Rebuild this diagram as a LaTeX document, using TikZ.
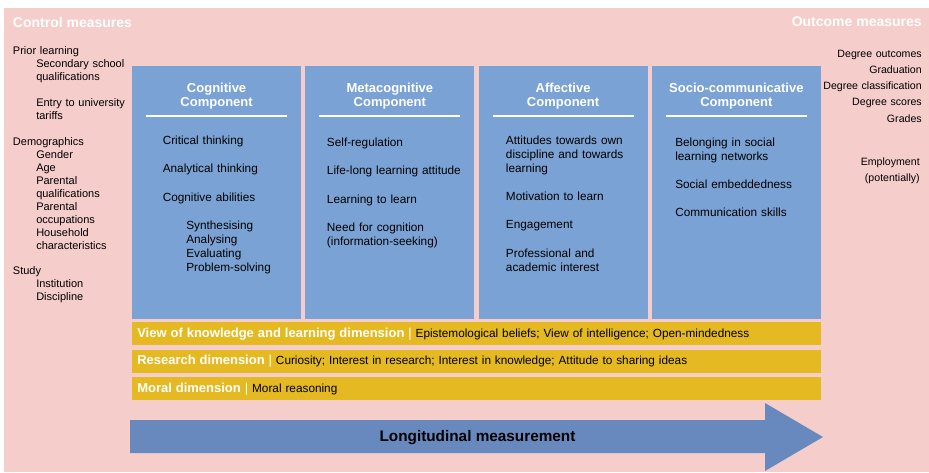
\documentclass[tikz,border=0pt]{standalone}
\usepackage{xcolor}
\usepackage{fontspec}
\usepackage{tikz}
\setmainfont{Liberation Sans}
\definecolor{bgpink}{RGB}{245,205,203}
\definecolor{compblue}{RGB}{123,162,212}
\definecolor{arrowblue}{RGB}{104,137,190}
\definecolor{baryellow}{RGB}{229,185,34}

\newcommand{\barhead}[1]{{\color{white}\bfseries\fontsize{9.75}{10}\selectfont #1 \mdseries\textbar}}

\tikzset{
  side/.style={font=\fontsize{8.25}{9.75}\selectfont, inner sep=0pt, anchor=base west, text width=120pt, align=left},
  outcome/.style={font=\fontsize{7.95}{12.2}\selectfont, inner sep=0pt, anchor=base east, text width=110pt, align=right},
  measure/.style={font=\bfseries\fontsize{10.5}{12}\selectfont, text=white, inner sep=0pt},
  compbox/.style={fill=compblue, minimum width=126.9pt, minimum height=189.75pt, inner sep=0pt},
  head/.style={font=\bfseries\fontsize{9.75}{10.5}\selectfont, text=white, inner sep=0pt, anchor=base, text width=125pt, align=center},
  item/.style={font=\fontsize{8.85}{10.5}\selectfont, inner sep=0pt, anchor=base west, text width=118pt, align=left},
  dimbar/.style={fill=baryellow, anchor=north west, text width=509.25pt, inner xsep=3.75pt, inner ysep=3.75pt,
    text height=7.5pt, text depth=2.25pt, align=left, font=\fontsize{8.85}{10}\selectfont}
}

\begin{document}
\begin{tikzpicture}[x=0.75pt,y=-0.75pt]
\useasboundingbox (0,0) rectangle (929,472);
% Draw the pink background
\fill[white] (0,0) rectangle (929,472);
\fill[bgpink] (4,8) rectangle (929,472);
% Headings of the two measure columns
\node[measure, anchor=base west] (control) at (12.7,27) {Control measures};
\node[measure, anchor=base east] (outcome) at (922,26) {Outcome measures};
% Control measures
\node[side] (prior) at (12.7,54) {Prior learning};
\node[side] (school) at (36,67) {Secondary school\\qualifications};
\node[side] (tariffs) at (36,106) {Entry to university\\tariffs};
\node[side] (demo) at (12.7,145) {Demographics};
\node[side] (demolist) at (36,158) {Gender\\Age\\Parental\\qualifications\\Parental\\occupations\\Household\\characteristics};
\node[side] (study) at (12.7,274) {Study};
\node[side] (studylist) at (36,287) {Institution\\Discipline};
% Outcome measures
\node[outcome] (degree) at (922,57) {Degree outcomes\\Graduation\\Degree classification\\Degree scores\\Grades};
\node[outcome] (employ) at (920,165) {Employment\\(potentially)};
% Draw the four component boxes
\foreach \name/\x/\title in {cog/132/Cognitive, meta/305.25/Metacognitive, aff/478.5/Affective, soc/651.75/Socio-communicative} {
  \node[compbox] (\name) at (\x+84.6,192.5) {};
  \node[head] (\name-title) at (\x+84.6,92) {\title\\Component};
  \draw[white, line width=1.1pt] (\x+14,116) -- (\x+155,116);
}
% Cognitive component
\node[item] (critical) at (162.5,144) {Critical thinking};
\node[item] (analytical) at (162.5,172.5) {Analytical thinking};
\node[item] (abilities) at (162.5,201) {Cognitive abilities};
\node[item] (skills) at (186,229) {Synthesising\\Analysing\\Evaluating\\Problem-solving};
% Metacognitive component
\node[item] (selfreg) at (326.7,146) {Self-regulation};
\node[item] (lifelong) at (326.7,174) {Life-long learning attitude};
\node[item] (learnlearn) at (326.7,203) {Learning to learn};
\node[item] (needcog) at (326.7,231) {Need for cognition\\(information-seeking)};
% Affective component
\node[item] (attitudes) at (505.7,144) {Attitudes towards own\\discipline and towards\\learning};
\node[item] (motivation) at (505.7,200) {Motivation to learn};
\node[item] (engage) at (505.7,228) {Engagement};
\node[item] (interest) at (505.7,257) {Professional and\\academic interest};
% Socio-communicative component
\node[item] (belong) at (675,146) {Belonging in social\\learning networks};
\node[item] (embed) at (675,188) {Social embeddedness};
\node[item] (commun) at (675,216.5) {Communication skills};
% Dimension bars
\node[dimbar] (viewdim) at (132,322) {\barhead{View of knowledge and learning dimension} Epistemological beliefs; View of intelligence; Open-mindedness};
\node[dimbar] (researchdim) at (132,349.5) {\barhead{Research dimension} Curiosity; Interest in research; Interest in knowledge; Attitude to sharing ideas};
\node[dimbar] (moraldim) at (132,377) {\barhead{Moral dimension} Moral reasoning};
% Draw the measurement arrow
\fill[arrowblue] (130,420) -- (765,420) -- (765,403) -- (823,437) -- (765,471) -- (765,453) -- (130,453) -- cycle;
\node[font=\bfseries\fontsize{11.5}{12}\selectfont, inner sep=0pt, anchor=base] (longi) at (477.5,441) {Longitudinal measurement};
\end{tikzpicture}
\end{document}
